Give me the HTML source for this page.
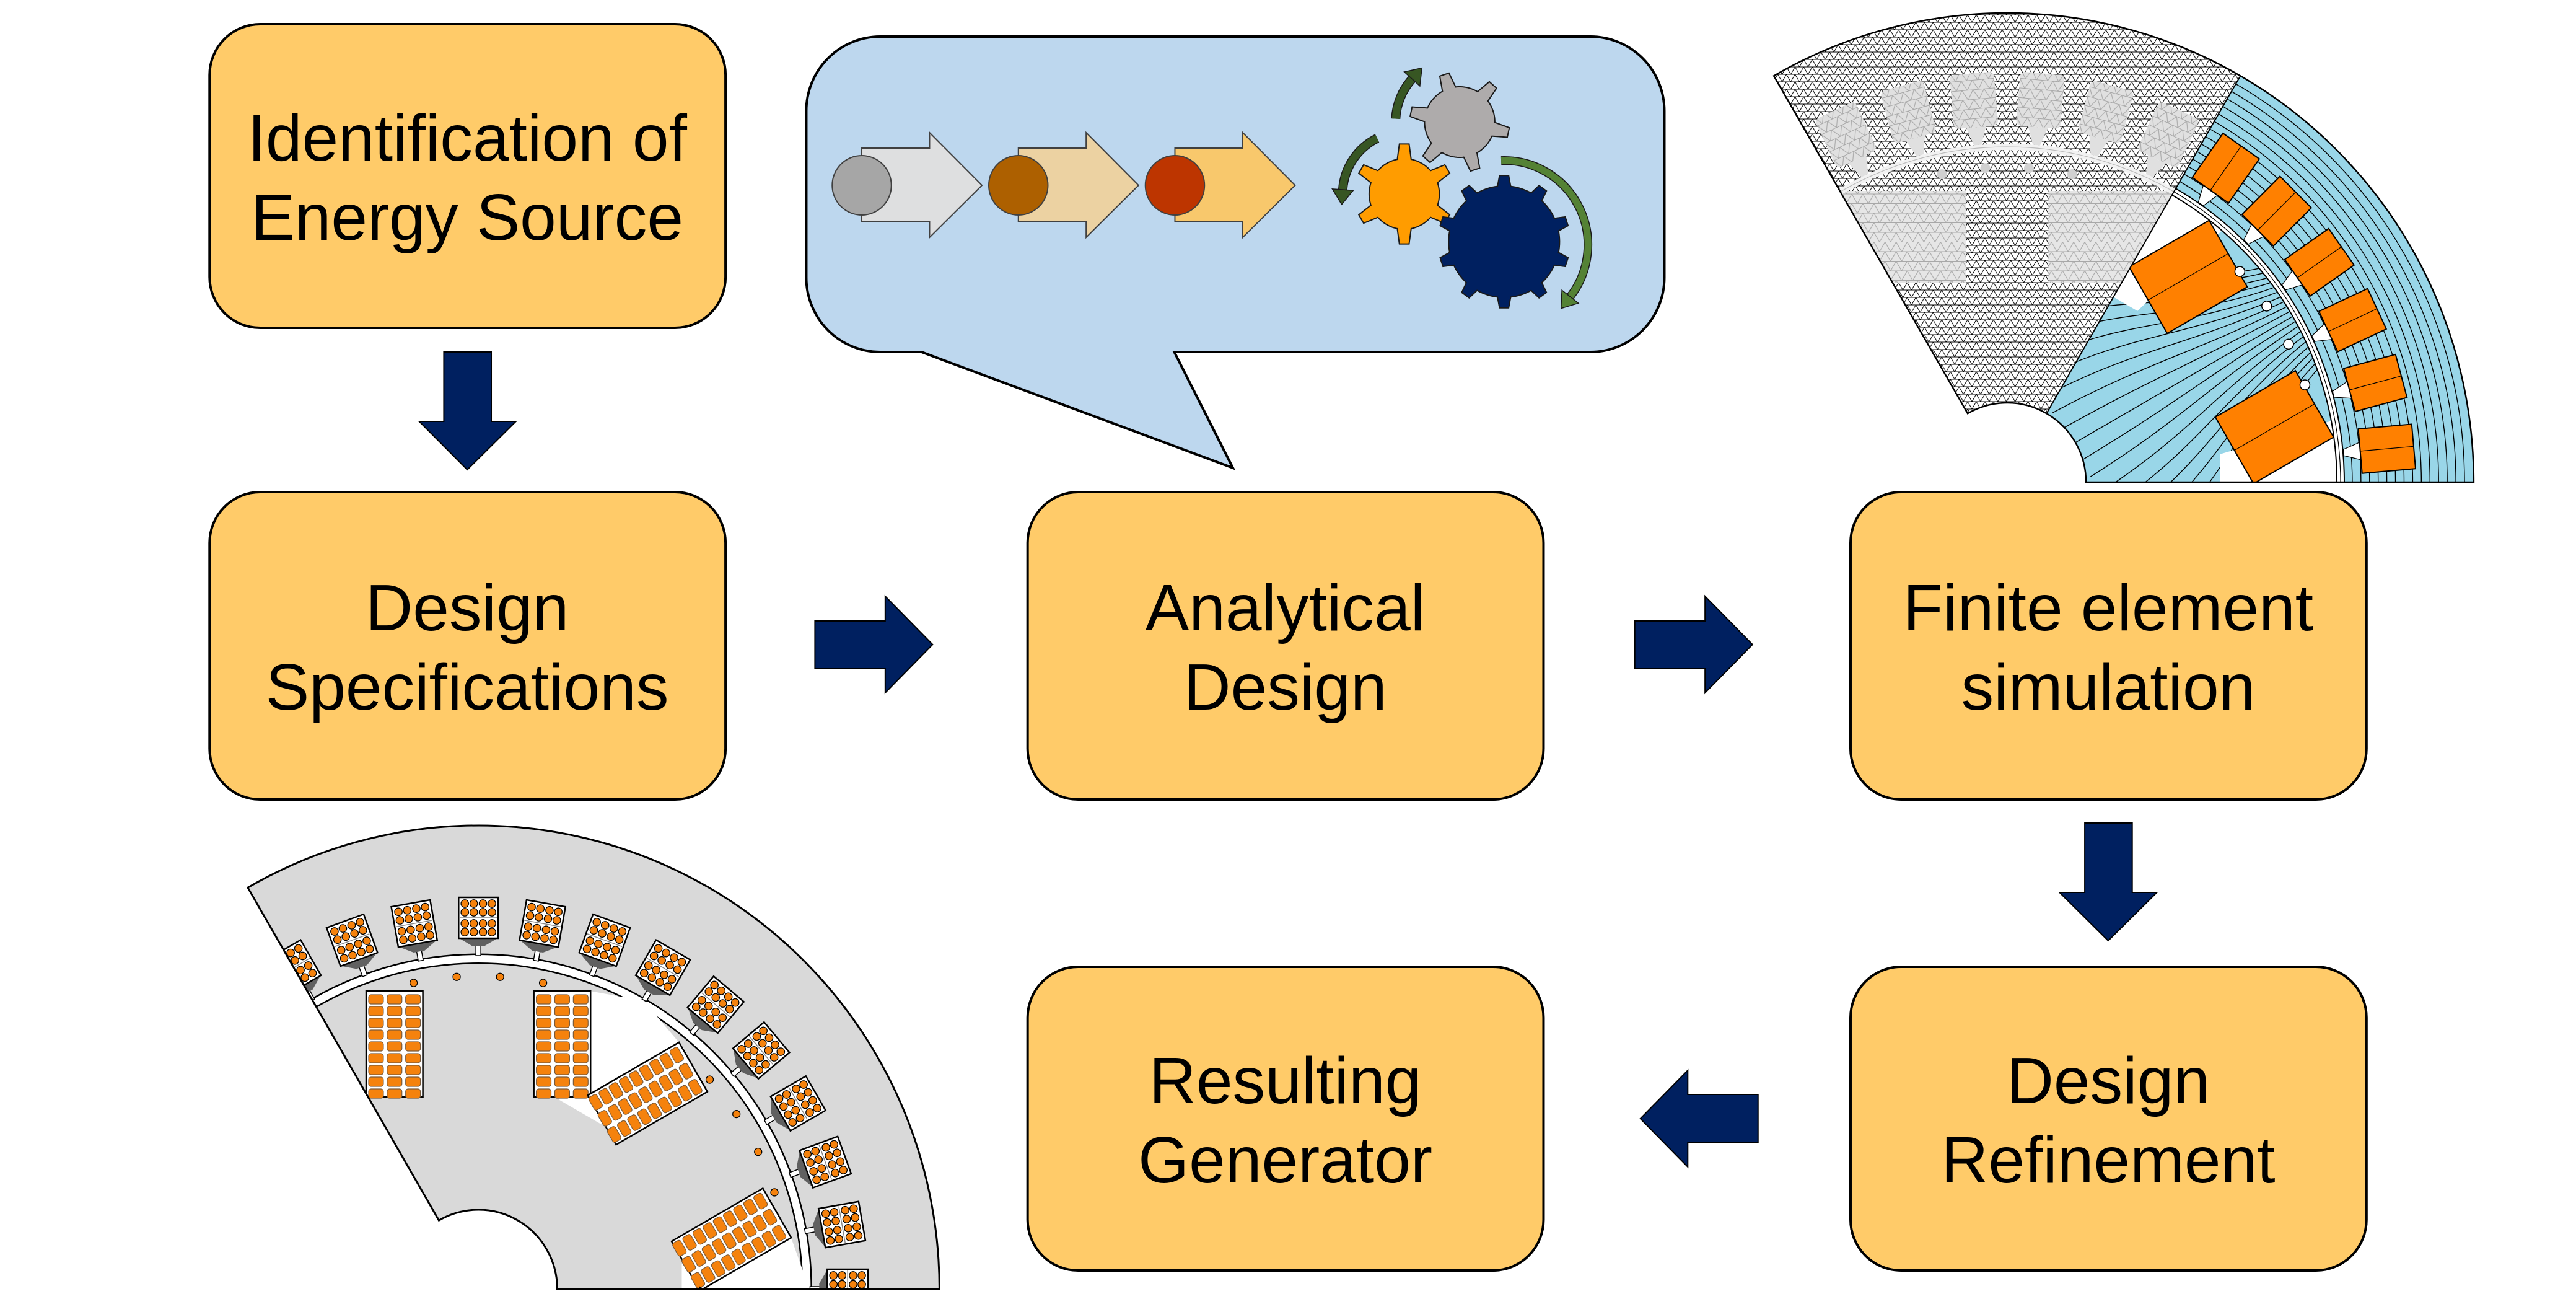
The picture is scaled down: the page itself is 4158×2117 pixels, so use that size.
<!DOCTYPE html>
<html><head><meta charset="utf-8">
<style>
html,body{margin:0;padding:0;background:#fff;width:4158px;height:2117px;overflow:hidden;}
svg{display:block;}
text{font-family:"Liberation Sans",Arial,sans-serif;font-size:106px;fill:#000;}
</style></head>
<body>
<svg id="s" xmlns="http://www.w3.org/2000/svg" width="4158" height="2117" viewBox="0 0 4158 2117">
<defs>
<pattern id="meshD" width="14" height="12" patternUnits="userSpaceOnUse">
<path d="M0,0 L14,0 M0,0 L7,12 L14,0 M0,12 L14,12" stroke="#000" stroke-width="1" fill="none"/>
</pattern>
<pattern id="meshL" width="18" height="15.5" patternUnits="userSpaceOnUse">
<path d="M0,0 L18,0 M0,0 L9,15.5 L18,0 M0,15.5 L18,15.5" stroke="#a8a8a8" stroke-width="1.1" fill="none"/>
</pattern>
</defs>
<g transform="scale(0.995,1)">
<!-- Boxes -->
<g fill="#ffcb69" stroke="#000" stroke-width="4">
<rect x="340" y="39" width="837" height="490" rx="82"/>
<rect x="340" y="794" width="837" height="496" rx="82"/>
<rect x="1667" y="794" width="837" height="496" rx="82"/>
<rect x="3002" y="794" width="837" height="496" rx="82"/>
<rect x="3002" y="1560" width="837" height="490" rx="82"/>
<rect x="1667" y="1560" width="837" height="490" rx="82"/>
</g>
<g text-anchor="middle">
<text x="758" y="259">Identification of</text>
<text x="758" y="387">Energy Source</text>
<text x="758" y="1017">Design</text>
<text x="758" y="1145">Specifications</text>
<text x="2085" y="1017">Analytical</text>
<text x="2085" y="1145">Design</text>
<text x="3420" y="1017">Finite element</text>
<text x="3420" y="1145">simulation</text>
<text x="3420" y="1780">Design</text>
<text x="3420" y="1908">Refinement</text>
<text x="2085" y="1780">Resulting</text>
<text x="2085" y="1908">Generator</text>
</g>

<!-- Block arrows -->
<g fill="#002060" stroke="#000" stroke-width="2">
<polygon points="720,568 797,568 797,680 837,680 758,758 680,680 720,680"/>
<polygon points="1322,1002 1436,1002 1436,962 1513,1040 1436,1118 1436,1079 1322,1079"/>
<polygon points="2652,1002 2766,1002 2766,962 2843,1040 2766,1118 2766,1079 2652,1079"/>
<polygon points="3382,1328 3459,1328 3459,1440 3499,1440 3420,1518 3341,1440 3382,1440"/>
<polygon points="2852,1766 2738,1766 2738,1727 2661,1805 2738,1883 2738,1844 2852,1844"/>
</g>

<!-- Callout -->
<path d="M1428,59 H2580 A120,120 0 0 1 2700,179 V448 A120,120 0 0 1 2580,568 H1905 L2000,755 L1495,568 H1428 A120,120 0 0 1 1308,448 V179 A120,120 0 0 1 1428,59 Z" fill="#bdd7ee" stroke="#000" stroke-width="4"/>
<g stroke="#404040" stroke-width="2">
<polygon points="1398,239 1508,239 1508,214 1593,299 1508,383 1508,358 1398,358" fill="#dedfe0"/>
<circle cx="1398" cy="299" r="48" fill="#a6a6a6"/>
<polygon points="1652,239 1762,239 1762,214 1847,299 1762,383 1762,358 1652,358" fill="#ecd2a2"/>
<circle cx="1652" cy="299" r="48" fill="#ad6000"/>
<polygon points="1906,239 2016,239 2016,214 2101,299 2016,383 2016,358 1906,358" fill="#f8c86c"/>
<circle cx="1906" cy="299" r="48" fill="#bd3500"/>
</g>
<g id="gears"></g>

<!-- FE image -->
<g id="fe"></g>
<!-- Generator -->
<g id="gen"></g>
</g>
</svg>
<script>
(function(){
const NS='http://www.w3.org/2000/svg';
const defs=document.querySelector('defs');
function el(p,t,a){const e=document.createElementNS(NS,t);for(const k in a)e.setAttribute(k,a[k]);p.appendChild(e);return e;}
const rad=d=>d*Math.PI/180;
function P(cx,cy,r,a){return [cx+r*Math.sin(rad(a)),cy-r*Math.cos(rad(a))];}
function sector(cx,cy,R,r,a0,a1){
  const A=P(cx,cy,R,a0),B=P(cx,cy,R,a1),C=P(cx,cy,r,a1),D=P(cx,cy,r,a0);
  return `M${A} A${R},${R} 0 0 1 ${B} L${C} A${r},${r} 0 0 0 ${D} Z`;
}
function clip(id,d){const c=el(defs,'clipPath',{id:id});el(c,'path',{d:d});}

/* ---------- gears ---------- */
const gg=document.getElementById('gears');
function gear(cx,cy,rb,rt,n,rot,fill){
  let pts=[];const step=360/n;const wb=step*0.19, wt=step*0.12;
  for(let i=0;i<n;i++){
    const a=rot+i*step;
    pts.push(P(cx,cy,rb,a-wb),P(cx,cy,rt,a-wt*rb/rt*1.1),P(cx,cy,rt,a+wt*rb/rt*1.1),P(cx,cy,rb,a+wb));
    for(let t=a+wb+2;t<a+step-wb;t+=3)pts.push(P(cx,cy,rb,t));
  }
  el(gg,'polygon',{points:pts.map(p=>p.join(',')).join(' '),fill:fill,stroke:'#1a1a1a','stroke-width':2});
}
function garrow(cx,cy,r,a0,a1,col,w){
  const dir=a1>a0?1:-1;
  const A=P(cx,cy,r,a0),B=P(cx,cy,r,a1);
  const large=Math.abs(a1-a0)>180?1:0;
  const d=`M${A} A${r},${r} 0 ${large} ${dir>0?1:0} ${B}`;
  el(gg,'path',{d:d,fill:'none',stroke:'#1a1a1a','stroke-width':w+3});
  el(gg,'path',{d:d,fill:'none',stroke:col,'stroke-width':w});
  const t=rad(a1);const tx=Math.cos(t)*dir,ty=Math.sin(t)*dir;const nx=Math.sin(t),ny=-Math.cos(t);
  const tip=[B[0]+tx*24,B[1]+ty*24],l=[B[0]+nx*17,B[1]+ny*17],rr=[B[0]-nx*17,B[1]-ny*17];
  el(gg,'polygon',{points:[tip,l,rr].map(p=>p.join(',')).join(' '),fill:col,stroke:'#1a1a1a','stroke-width':1.5});
}
gear(2368,197,57,81,6,-18,'#aeabab');
gear(2278,313,57,81,6,0,'#ff9c00');
gear(2440,390,90,107,10,0,'#002060');
garrow(2440,395,136,-2,128,'#548235',11);
garrow(2368,197,104,-87,-48,'#375623',12);
garrow(2278,313,100,-26,-86,'#375623',12);

/* ---------- generator ---------- */
const gen=document.getElementById('gen');
const GX=776,GY=2080;
const gsec=sector(GX,GY,748,128,-30,90);
clip('genClip',gsec);
el(gen,'path',{d:gsec,fill:'#d9d9d9'});
const gi=el(gen,'g',{'clip-path':'url(#genClip)'});
el(gi,'circle',{cx:GX,cy:GY,r:533,fill:'none',stroke:'#000','stroke-width':17});
el(gi,'circle',{cx:GX,cy:GY,r:533,fill:'none',stroke:'#fff','stroke-width':12});
for(let a=-30;a<=90;a+=10){
  const g=el(gi,'g',{transform:`translate(${GX} ${GY}) rotate(${a})`});
  el(g,'rect',{x:-4,y:-562,width:8,height:24,fill:'#fff',stroke:'#000','stroke-width':1.5});
  el(g,'polygon',{points:'-31,-566 31,-566 9,-553 -9,-553',fill:'#606060'});
  el(g,'rect',{x:-32,y:-632,width:64,height:66,fill:'#fff',stroke:'#000','stroke-width':2.5});
  el(g,'line',{x1:-30,y1:-599,x2:30,y2:-599,stroke:'#888','stroke-width':1.5});
  for(const cy of [-622,-608,-590,-576])for(const cx of [-22,-7.5,7.5,22])
    el(g,'circle',{cx:cx,cy:cy,r:6.2,fill:'#f5820d',stroke:'#000','stroke-width':1.3});
}
for(const q of [30,90]){
  const g=el(gi,'g',{transform:`translate(${GX} ${GY}) rotate(${q})`});
  el(g,'polygon',{points:'-95,-503 0,-537 95,-503 40,-330 -40,-330',fill:'#fff'});
}
for(const p of [0,60,120]){
  const g=el(gi,'g',{transform:`translate(${GX} ${GY}) rotate(${p})`});
  for(const d of [-12,-4,4,12]){const c=P(0,0,505,d);el(g,'circle',{cx:c[0],cy:c[1],r:6,fill:'#f5820d',stroke:'#000','stroke-width':1.3});}
  for(const sx of [-136,136]){
    el(g,'rect',{x:sx-46,y:-481,width:92,height:171,fill:'#fff',stroke:'#000','stroke-width':2.5});
    for(let i=0;i<9;i++)for(const o of [-30,0,30])
      el(g,'rect',{x:sx+o-12,y:-475+i*19,width:24,height:15,rx:4,fill:'#f5820d',stroke:'#7a5a3a','stroke-width':1.2});
  }
}
el(gen,'path',{d:gsec,fill:'none',stroke:'#000','stroke-width':3});

/* ---------- FE ---------- */
const fe=document.getElementById('fe');
const FX=3256,FY=778;
const fsec=sector(FX,FY,757,128,-30,90);
clip('feBlue',sector(FX,FY,757,128,30,90));
clip('feMesh',sector(FX,FY,757,128,-30,30));
const fb=el(fe,'g',{'clip-path':'url(#feBlue)'});
el(fb,'rect',{x:3000,y:0,width:1158,height:800,fill:'#99d6e8'});
for(let r=560;r<=750;r+=14)el(fb,'circle',{cx:FX,cy:FY,r:r,fill:'none',stroke:'#000','stroke-width':1.4});
{
  const g=el(fb,'g',{transform:`translate(${FX} ${FY}) rotate(60)`});
  for(let k=-10;k<=10;k++){
    const xb=k*30, xt=k*9;
    el(g,'path',{d:`M${xb},-120 C${xb*0.9},-300 ${xt*1.6},-360 ${xt},-540`,fill:'none',stroke:'#000','stroke-width':1.4});
  }
}
for(const q of [30,90]){
  const g=el(fb,'g',{transform:`translate(${FX} ${FY}) rotate(${q})`});
  el(g,'polygon',{points:'-100,-530 0,-536 100,-530 45,-345 -45,-345',fill:'#fff'});
}
el(fb,'circle',{cx:FX,cy:FY,r:541,fill:'none',stroke:'#000','stroke-width':14});
el(fb,'circle',{cx:FX,cy:FY,r:541,fill:'none',stroke:'#fff','stroke-width':10});
el(fb,'circle',{cx:FX,cy:FY,r:541,fill:'none',stroke:'#000','stroke-width':1.2});
{
  const g=el(fb,'g',{transform:`translate(${FX} ${FY}) rotate(60)`});
  for(const sx of [-140,140]){
    el(g,'rect',{x:sx-62,y:-495,width:124,height:150,fill:'#ff8000',stroke:'#000','stroke-width':2});
    el(g,'line',{x1:sx,y1:-495,x2:sx,y2:-345,stroke:'#000','stroke-width':1.2});
  }
  for(const d of [-12,-4,4,12]){const c=P(0,0,508,d);el(g,'circle',{cx:c[0],cy:c[1],r:8,fill:'#fff',stroke:'#000','stroke-width':1.5});}
}
for(let a=35;a<=85;a+=10){
  const g=el(fb,'g',{transform:`translate(${FX} ${FY}) rotate(${a})`});
  el(g,'polygon',{points:'-5,-548 5,-548 14,-575 -14,-575',fill:'#fff',stroke:'#000','stroke-width':1.2});
  el(g,'rect',{x:-36,y:-662,width:72,height:87,fill:'#ff8000',stroke:'#000','stroke-width':2});
  el(g,'line',{x1:0,y1:-662,x2:0,y2:-575,stroke:'#000','stroke-width':1.2});
}
const fm=el(fe,'g',{'clip-path':'url(#feMesh)'});
el(fm,'rect',{x:2800,y:0,width:1000,height:800,fill:'#fff'});
el(fm,'rect',{x:2800,y:0,width:1000,height:800,fill:'url(#meshD)'});
{
  const g=el(fm,'g',{transform:`translate(${FX} ${FY})`});
  for(const [x,w] of [[-330,263],[67,263]]){
    el(g,'rect',{x:x,y:-470,width:w,height:148,fill:'#e6e6e6'});
    el(g,'rect',{x:x,y:-470,width:w,height:148,fill:'url(#meshL)'});
  }
  el(g,'circle',{cx:0,cy:0,r:541,fill:'none',stroke:'#f2f2f2','stroke-width':10});
  el(g,'circle',{cx:0,cy:0,r:541,fill:'none',stroke:'#bbb','stroke-width':1.2});
  for(const d of [-12,-4,4,12]){const c=P(0,0,508,d);el(g,'circle',{cx:c[0],cy:c[1],r:8,fill:'#d0d0d0'});}
}
for(let a=-25;a<=25;a+=10){
  const g=el(fm,'g',{transform:`translate(${FX} ${FY}) rotate(${a})`});
  el(g,'polygon',{points:'-6,-546 6,-546 16,-575 -16,-575',fill:'#e0e0e0'});
  el(g,'rect',{x:-36,y:-662,width:72,height:87,rx:8,fill:'#e0e0e0'});
  el(g,'rect',{x:-36,y:-662,width:72,height:87,rx:8,fill:'url(#meshL)'});
}
{const A=P(FX,FY,757,30),B=P(FX,FY,128,30);el(fe,'line',{x1:A[0],y1:A[1],x2:B[0],y2:B[1],stroke:'#000','stroke-width':2});}
el(fe,'path',{d:fsec,fill:'none',stroke:'#000','stroke-width':2.5});
})();
</script>
</body></html>
